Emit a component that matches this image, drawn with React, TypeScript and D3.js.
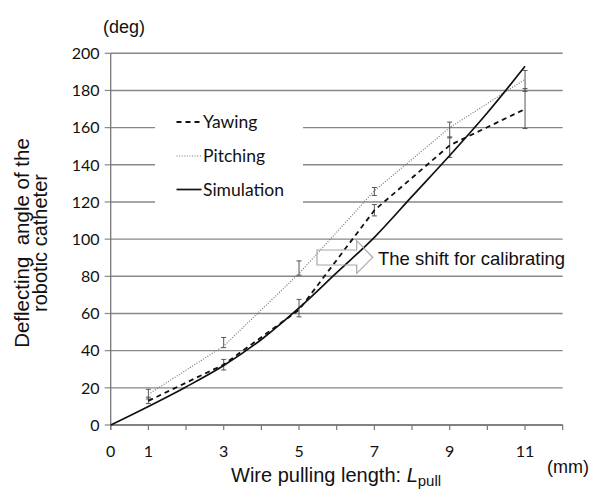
import React from "react";
import * as d3 from "d3";

// ---- data ----
const xTicks = [0, 1, 2, 3, 4, 5, 6, 7, 8, 9, 10, 11, 12];
const xLabels = [0, 1, 3, 5, 7, 9, 11];
const yTicks = [0, 20, 40, 60, 80, 100, 120, 140, 160, 180, 200];

const measX = [1, 3, 5, 7, 9, 11];
const yawing = [13, 32.5, 62, 115.5, 150.5, 170];
const yawLo = [11.5, 29.6, 58.2, 112.5, 144, 159.5];
const yawHi = [15, 35.3, 67.6, 118.6, 155, 181];
const pitching = [16.5, 42.5, 81.5, 126, 160, 186];
const pitchLo = [14, 41.6, 80.6, 123.5, 154.5, 179.5];
const pitchHi = [19.2, 47.1, 88.3, 127.8, 163, 190.8];

const simX = [0, 1, 2, 3, 4, 5, 6, 7, 8, 9, 10, 11];
const simulation = [0, 10, 20.5, 32, 46, 63, 82, 101, 123, 145, 168, 193];

const legendItems = ["Yawing", "Pitching", "Simulation"];

const W = 600;
const H = 499;

export default function App() {
  const x = d3.scaleLinear().domain([0, 12]).range([110.7, 562.7]);
  const y = d3.scaleLinear().domain([0, 200]).range([425, 53.3]);
  const line = d3
    .line<[number, number]>()
    .x((d) => x(d[0]))
    .y((d) => y(d[1]));
  const smooth = d3
    .line<[number, number]>()
    .x((d) => x(d[0]))
    .y((d) => y(d[1]))
    .curve(d3.curveMonotoneX);

  const yawPts = measX.map((v, i) => [v, yawing[i]] as [number, number]);
  const pitchPts = measX.map((v, i) => [v, pitching[i]] as [number, number]);
  const simPts = simX.map((v, i) => [v, simulation[i]] as [number, number]);

  const gridColor = "#878787";
  const sans = "'Liberation Sans', Arial, sans-serif";
  const cal = "Lato, 'Noto Sans', sans-serif";

  const styles = [
    { dash: "5,4", color: "#111", w: 1.8 },
    { dash: "1,1.6", color: "#777", w: 1.2 },
    { dash: "", color: "#111", w: 1.7 },
  ];
  const legendY = [122, 156, 189.5];

  const errBar = (xv: number, lo: number, hi: number, key: string) => (
    <g key={key} stroke="#555" strokeWidth={1}>
      <line x1={x(xv)} x2={x(xv)} y1={y(lo)} y2={y(hi)} />
      <line x1={x(xv) - 2.5} x2={x(xv) + 2.5} y1={y(lo)} y2={y(lo)} />
      <line x1={x(xv) - 2.5} x2={x(xv) + 2.5} y1={y(hi)} y2={y(hi)} />
    </g>
  );

  return (
    <svg
      width={W}
      height={H}
      style={{ position: "absolute", left: 0, top: 0, background: "#fff" }}
    >
      <rect width={W} height={H} fill="#fff" />
      {/* gridlines */}
      {yTicks.map((t) => (
        <line
          key={"g" + t}
          x1={x(0)}
          x2={x(12)}
          y1={y(t)}
          y2={y(t)}
          stroke={gridColor}
          strokeWidth={1.4}
        />
      ))}
      {/* y ticks */}
      {yTicks.map((t) => (
        <line
          key={"yt" + t}
          x1={x(0) - 6}
          x2={x(0)}
          y1={y(t)}
          y2={y(t)}
          stroke={gridColor}
          strokeWidth={1.2}
        />
      ))}
      {yTicks.map((t) => (
        <text
          key={"yl" + t}
          x={99.5}
          y={y(t)}
          dy="0.36em"
          textAnchor="end"
          fontFamily={cal}
          fontSize={16}
          fill="#111"
        >
          {t}
        </text>
      ))}
      {/* axes */}
      <line x1={x(0)} x2={x(0)} y1={y(0) + 5} y2={y(200)} stroke="#777" strokeWidth={1.3} />
      <line x1={x(0)} x2={x(12)} y1={y(0)} y2={y(0)} stroke="#777" strokeWidth={1.4} />
      {xTicks.map((t) => (
        <line
          key={"xt" + t}
          x1={x(t)}
          x2={x(t)}
          y1={y(0)}
          y2={y(0) + 5}
          stroke="#777"
          strokeWidth={1.2}
        />
      ))}
      {xLabels.map((t) => (
        <text
          key={"xl" + t}
          x={x(t)}
          y={457}
          textAnchor="middle"
          fontFamily={cal}
          fontSize={16}
          fill="#111"
        >
          {t}
        </text>
      ))}

      {/* legend box covering gridlines */}
      <rect x={155} y={96} width={148} height={111} fill="#fff" />
      {legendItems.map((name, i) => (
        <g key={name}>
          <line
            x1={176.5}
            x2={201.5}
            y1={legendY[i]}
            y2={legendY[i]}
            stroke={styles[i].color}
            strokeWidth={styles[i].w}
            strokeDasharray={styles[i].dash || undefined}
          />
          <text
            x={203}
            y={legendY[i] + 6}
            fontFamily={cal}
            fontSize={17.5}
            fill="#111"
          >
            {name}
          </text>
        </g>
      ))}

      {/* error bars */}
      {measX.map((v, i) => errBar(v, pitchLo[i], pitchHi[i], "pe" + i))}
      {measX.map((v, i) => errBar(v, yawLo[i], yawHi[i], "ye" + i))}

      {/* series */}
      <path
        d={line(pitchPts) || ""}
        fill="none"
        stroke={styles[1].color}
        strokeWidth={styles[1].w}
        strokeDasharray={styles[1].dash}
      />
      <path
        d={line(yawPts) || ""}
        fill="none"
        stroke={styles[0].color}
        strokeWidth={styles[0].w}
        strokeDasharray={styles[0].dash}
      />
      <path
        d={smooth(simPts) || ""}
        fill="none"
        stroke={styles[2].color}
        strokeWidth={styles[2].w}
      />

      {/* calibration arrow */}
      <path
        d="M317,250 L356.7,250 L356.7,240.7 L372.7,257.3 L356.7,273.3 L356.7,265 L317,265 Z"
        fill="none"
        stroke="#a8a8a8"
        strokeWidth={1.2}
      />
      <text x={378} y={265} fontFamily={sans} fontSize={18.5} fill="#111">
        The shift for calibrating
      </text>

      {/* unit labels */}
      <text x={103} y={33.3} fontFamily={sans} fontSize={18} fill="#111">
        (deg)
      </text>
      <text x={547} y={472.6} fontFamily={sans} fontSize={18} fill="#111">
        (mm)
      </text>

      {/* axis titles */}
      <text x={231} y={482} fontFamily={sans} fontSize={20} fill="#111">
        Wire pulling length:{" "}
        <tspan fontStyle="italic">L</tspan>
        <tspan fontSize={15} dy={4}>
          pull
        </tspan>
      </text>
      <g transform="translate(0,243) rotate(-90)">
        <text
          x={0}
          y={29.3}
          textAnchor="middle"
          fontFamily={sans}
          fontSize={20.5}
          fill="#111"
          style={{ whiteSpace: "pre" }}
        >
          {"Deflecting  angle of the"}
        </text>
        <text
          x={0}
          y={46.7}
          textAnchor="middle"
          fontFamily={sans}
          fontSize={20}
          fill="#111"
        >
          robotic catheter
        </text>
      </g>
    </svg>
  );
}
